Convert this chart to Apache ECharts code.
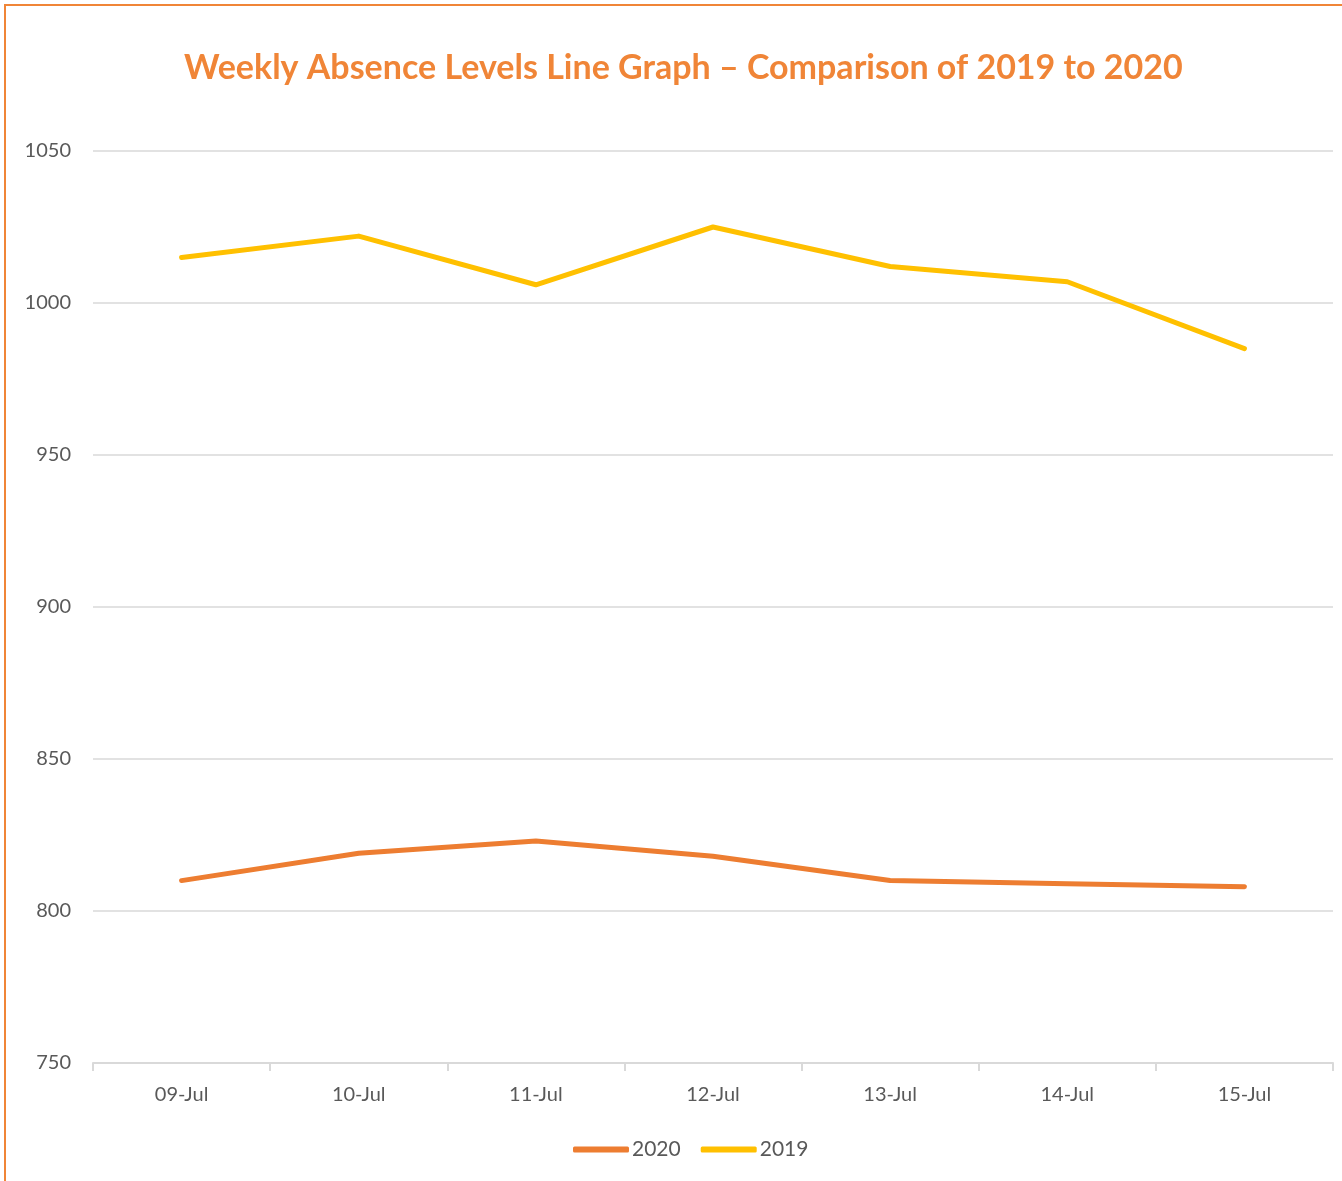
<!DOCTYPE html>
<html>
<head>
<meta charset="utf-8">
<script src="https://cdn.jsdelivr.net/npm/echarts@6/dist/echarts.min.js"></script>
<style>
  html, body { margin: 0; padding: 0; background: #fff; overflow: hidden; }
  #frame {
    position: absolute; left: 4px; top: 4px;
    width: 1400px; height: 1300px;
    border-left: 2px solid #f08537; border-top: 2px solid #f08537;
  }
  #chart { position: absolute; left: 0; top: 0; width: 1342px; height: 1181px; }
</style>
</head>
<body>
<div id="frame"></div>
<div id="chart"></div>
<script>
// chart data
var days = ["09-Jul", "10-Jul", "11-Jul", "12-Jul", "13-Jul", "14-Jul", "15-Jul"];
var values2020 = [810, 819, 823, 818, 810, 809, 808];
var values2019 = [1015, 1022, 1006, 1025, 1012, 1007, 985];
var yTicks = { min: 750, max: 1050, step: 50 };

var font = "Lato, 'Open Sans', sans-serif";
var myChart = echarts.init(document.getElementById("chart"));

var option = {
  backgroundColor: "transparent",
  animation: false,
  title: {
    text: "Weekly Absence Levels Line Graph \u2013 Comparison of 2019 to 2020",
    left: 179,
    top: 46,
    textStyle: { color: "#f08537", fontSize: 34, fontWeight: "bold", fontFamily: font }
  },
  legend: {
    bottom: 16,
    left: 568,
    itemWidth: 56,
    itemHeight: 6,
    itemGap: 20,
    icon: "roundRect",
    textStyle: { color: "#595959", fontSize: 21, fontFamily: font, padding: [0, 0, 0, -2] },
    data: ["2020", "2019"]
  },
  grid: { left: 93, right: 9, top: 151, bottom: 118 },
  xAxis: {
    type: "category",
    data: days,
    boundaryGap: true,
    axisLine: { lineStyle: { color: "#d9d9d9", width: 2 } },
    axisTick: { show: true, length: 8, lineStyle: { color: "#d9d9d9", width: 2 } },
    axisLabel: { color: "#595959", fontSize: 20, fontFamily: font, margin: 22 }
  },
  yAxis: {
    type: "value",
    min: yTicks.min,
    max: yTicks.max,
    interval: yTicks.step,
    axisLine: { show: false },
    axisTick: { show: false },
    axisLabel: {
      color: "#595959", fontSize: 20, fontFamily: font, margin: 22,
      formatter: function (v) { return String(v); }
    },
    splitLine: { lineStyle: { color: "#d9d9d9", width: 1.5 } }
  },
  series: [
    {
      name: "2020",
      type: "line",
      data: values2020,
      symbol: "none",
      lineStyle: { color: "#ed7d31", width: 5, cap: "round", join: "round" },
      itemStyle: { color: "#ed7d31" }
    },
    {
      name: "2019",
      type: "line",
      data: values2019,
      symbol: "none",
      lineStyle: { color: "#ffc000", width: 5, cap: "round", join: "round" },
      itemStyle: { color: "#ffc000" }
    }
  ]
};

myChart.setOption(option);
</script>
</body>
</html>
